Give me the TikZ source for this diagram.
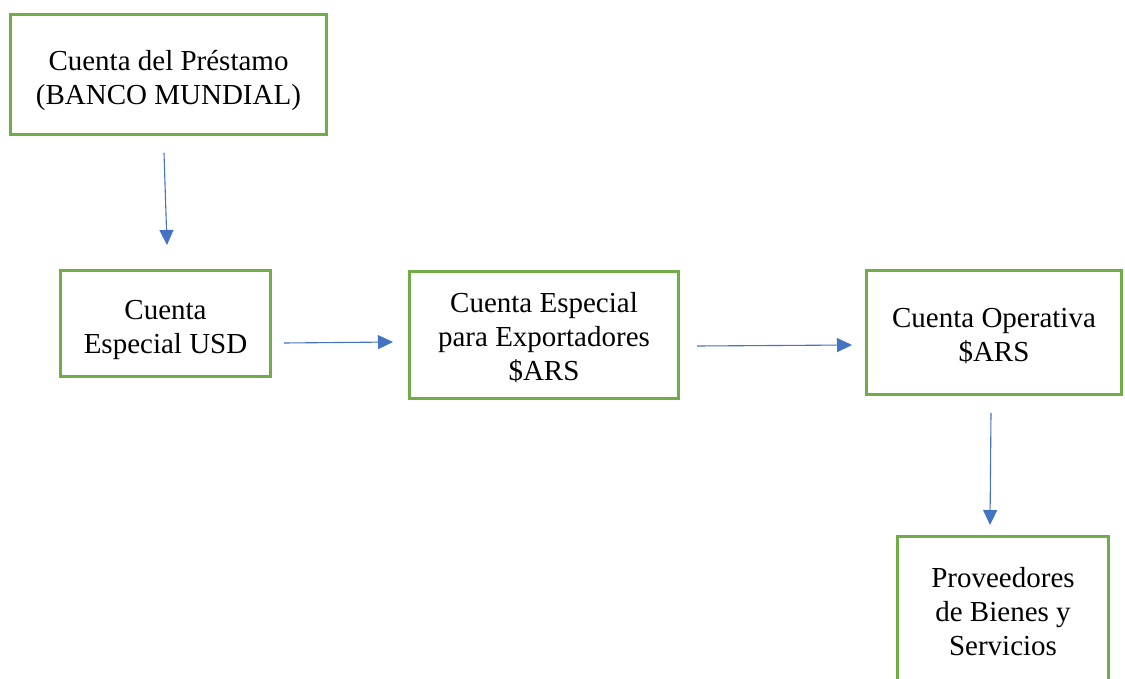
\documentclass[tikz,border=0pt]{standalone}
\usepackage{fontspec}
\setmainfont{Liberation Serif}
\usetikzlibrary{arrows.meta}
\definecolor{boxgreen}{HTML}{70AD47}
\definecolor{arrblue}{HTML}{4472C4}
\newcommand{\boxtext}[2]{\raisebox{-#1}[\height][\depth]{\begin{tabular}{@{}c@{}}#2\end{tabular}}}
\begin{document}
\begin{tikzpicture}[x=1pt,y=-1pt,
  acct/.style={draw=boxgreen, line width=3pt, rectangle, inner sep=0pt,
    font=\fontsize{29}{34}\selectfont},
  arr/.style={draw=arrblue, line width=1.1pt, -{Triangle[length=15pt,width=14pt]}}]
\useasboundingbox (0,0) rectangle (1125,679);
\clip (0,0) rectangle (1125,679);
\node[acct, minimum width=316pt, minimum height=120pt] (b1) at (168.5,74.5) {\boxtext{6pt}{Cuenta del Préstamo\\(BANCO MUNDIAL)}};
\node[acct, minimum width=210pt, minimum height=106pt] (b2) at (165.5,323.5) {\boxtext{6pt}{Cuenta\\Especial USD}};
\node[acct, minimum width=269pt, minimum height=127pt] (b3) at (544,335) {\boxtext{5pt}{Cuenta Especial\\para Exportadores\\\$ARS}};
\node[acct, minimum width=255pt, minimum height=124pt] (b4) at (994,332.5) {\boxtext{5pt}{Cuenta Operativa\\\$ARS}};
\node[acct, minimum width=211pt, minimum height=151pt] (b5) at (1003,612) {\boxtext{3pt}{Proveedores\\de Bienes y\\Servicios}};
\draw[arr] ([xshift=-4.5pt,yshift=-17pt]b1.south) -- ([xshift=1.5pt,yshift=24pt]b2.north);
\draw[arr] ([xshift=12pt,yshift=-19.5pt]b2.east) -- ([xshift=-15pt,yshift=-7pt]b3.west);
\draw[arr] ([xshift=17pt,yshift=-11pt]b3.east) -- ([xshift=-13pt,yshift=-12.5pt]b4.west);
\draw[arr] ([xshift=-3pt,yshift=-17pt]b4.south) -- ([xshift=-13pt,yshift=10pt]b5.north);
\end{tikzpicture}
\end{document}
